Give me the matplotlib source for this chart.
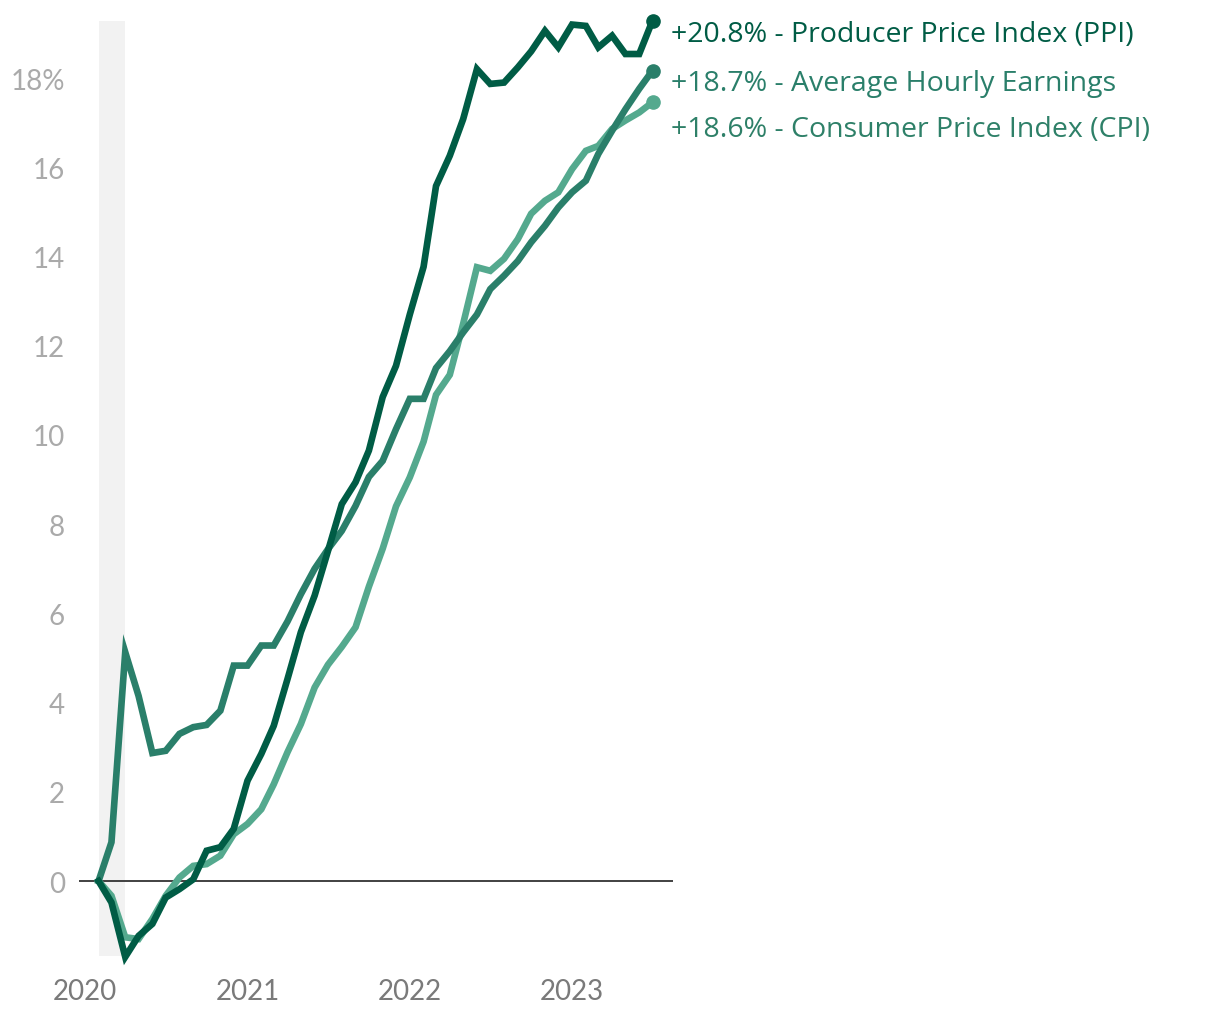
import matplotlib
matplotlib.use("Agg")
import matplotlib.pyplot as plt
import pandas as pd

plt.rcParams['font.family'] = ['Lato', 'DejaVu Sans']

months = pd.date_range('2020-02-01', periods=42, freq='MS')

ppi = [0.0, -0.48, -1.70, -1.23, -0.96, -0.37, -0.18, 0.04, 0.68, 0.76,
       1.17, 2.25, 2.85, 3.48, 4.53, 5.58, 6.40, 7.40, 8.45, 8.94,
       9.65, 10.85, 11.55, 12.70, 13.77, 15.58, 16.26, 17.08, 18.20, 17.87,
       17.90, 18.24, 18.60, 19.06, 18.69, 19.20, 19.17, 18.69, 18.95, 18.54,
       18.54, 19.29]
ahe = [0.0, 0.87, 5.13, 4.15, 2.87, 2.92, 3.30, 3.45, 3.50, 3.82,
       4.83, 4.83, 5.28, 5.28, 5.82, 6.43, 7.00, 7.44, 7.85, 8.41,
       9.06, 9.42, 10.13, 10.81, 10.81, 11.50, 11.88, 12.30, 12.70, 13.27,
       13.57, 13.90, 14.32, 14.69, 15.10, 15.44, 15.70, 16.30, 16.82, 17.30,
       17.76, 18.17]
cpi = [0.0, -0.33, -1.26, -1.30, -0.85, -0.33, 0.08, 0.34, 0.38, 0.57,
       1.05, 1.28, 1.61, 2.17, 2.89, 3.52, 4.34, 4.85, 5.25, 5.69,
       6.60, 7.45, 8.40, 9.05, 9.85, 10.90, 11.35, 12.49, 13.76, 13.68,
       13.95, 14.39, 14.96, 15.25, 15.44, 15.96, 16.37, 16.48, 16.86, 17.05,
       17.23, 17.46]

labels = ['+20.8% - Producer Price Index (PPI)',
          '+18.7% - Average Hourly Earnings',
          '+18.6% - Consumer Price Index (CPI)']
colors = ['#005c45', '#2a7f6a', '#54a98e']
label_colors = ['#005c45', '#2a7f6a', '#2e8068']
label_dy = [-13, -12, -27]

recession = (pd.Timestamp('2020-02-01'), pd.Timestamp('2020-04-01'))
year_ticks = pd.to_datetime(['2020-01-01', '2021-01-01', '2022-01-01', '2023-01-01'])
year_labels = ['2020', '2021', '2022', '2023']
y_ticks = [0, 2, 4, 6, 8, 10, 12, 14, 16, 18]

fig = plt.figure(figsize=(12.2, 10.2), dpi=100)
ax = fig.add_axes([79/1220, 63/1020, (673-79)/1220, (957-22)/1020])

ax.axvspan(recession[0], recession[1], color='#f2f2f2', lw=0, zorder=0)
ax.axhline(0, color='#333333', lw=1.3, zorder=1)

for series, c, lc, lab, dy in zip([ppi, ahe, cpi][::-1], colors[::-1], label_colors[::-1],
                                  labels[::-1], label_dy[::-1]):
    ax.plot(months, series, color=c, lw=4.8, solid_joinstyle='miter',
            zorder=3, clip_on=False)
    ax.plot(months[-1:], series[-1:], 'o', color=c, ms=9.5, zorder=4, clip_on=False)
    ax.annotate(lab, xy=(months[-1], series[-1]), xytext=(18, dy),
                textcoords='offset pixels', color=lc, fontsize=20.5,
                family=['Open Sans', 'DejaVu Sans'],
                va='center', ha='left', annotation_clip=False)

ax.set_xlim(pd.Timestamp('2019-12-19'), pd.Timestamp('2023-08-16'))
ax.set_ylim(-1.68, 19.28)
ax.set_xticks(year_ticks)
ax.set_xticklabels(year_labels)
ax.set_yticks(y_ticks)
ax.set_yticklabels([f'{v}%' if v == 18 else f'{v}' for v in y_ticks])
ax.tick_params(axis='x', length=0, pad=16, labelsize=20, labelcolor='#7a7a7a')
ax.tick_params(axis='y', length=0, pad=10, labelsize=20, labelcolor='#aaaaaa')
for s in ax.spines.values():
    s.set_visible(False)

fig.savefig('out.png', dpi=100)
